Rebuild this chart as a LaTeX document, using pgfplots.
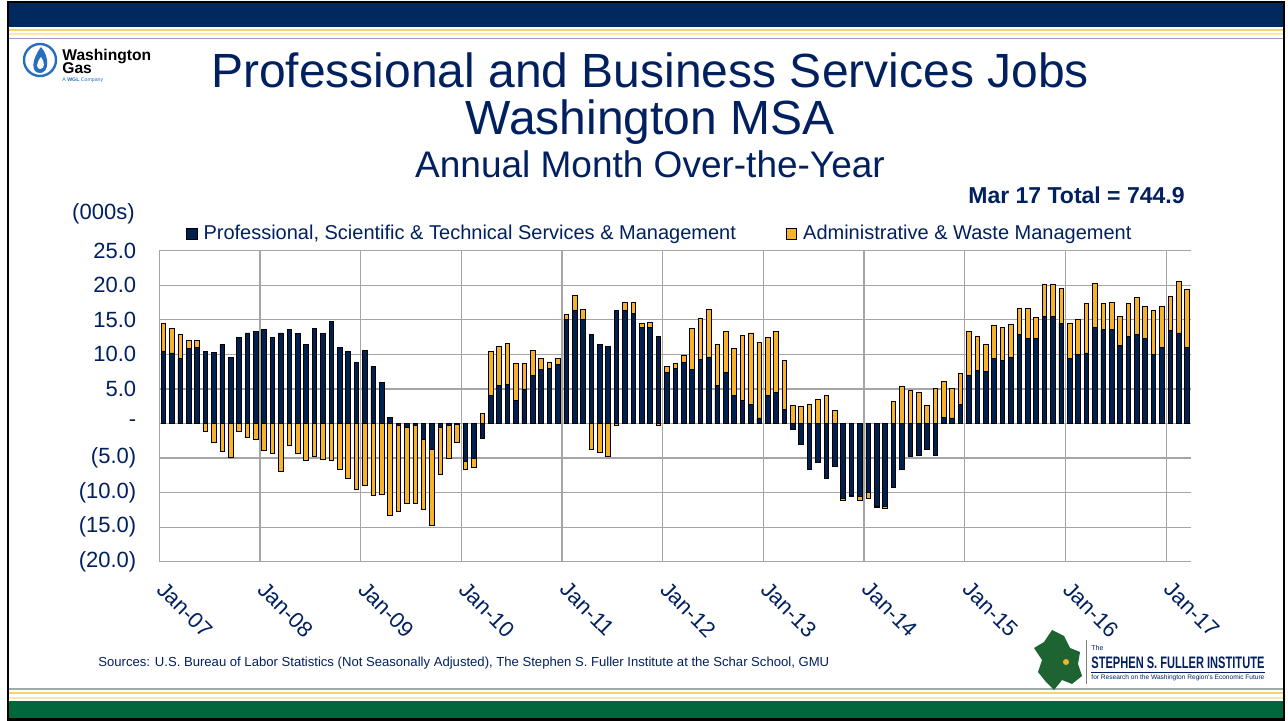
\documentclass[border=0pt]{standalone}
\usepackage{pgfplots}
\pgfplotsset{compat=1.18}
\usepackage{pgfplotstable}
\usepackage{graphicx}
\usepackage{fontspec}
\setmainfont{Liberation Sans}

\definecolor{navy}{RGB}{0,32,96}
\definecolor{barnavy}{RGB}{0,32,80}
\definecolor{gold}{RGB}{246,178,42}
\definecolor{bandnavy}{RGB}{0,41,94}
\definecolor{bandgreen}{RGB}{0,102,60}
\definecolor{stripeyellow}{RGB}{250,210,110}
\definecolor{gridgray}{RGB}{165,165,165}
\definecolor{logoblue}{RGB}{40,110,190}
\definecolor{mapgreen}{RGB}{30,100,50}

% month index, prof/sci/tech + management, admin & waste (change over the year, 000s)
\pgfplotstableread{
m pst adm
0 10.5 4.0
1 10.2 3.6
2 9.4 3.5
3 10.8 1.2
4 11.0 1.0
5 10.4 -1.1
6 10.3 -2.8
7 11.4 -4.0
8 9.5 -4.9
9 12.5 -1.1
10 13.1 -2.0
11 13.3 -2.3
12 13.6 -3.9
13 12.4 -4.4
14 13.1 -6.9
15 13.6 -3.1
16 13.0 -4.3
17 11.4 -5.4
18 13.7 -4.8
19 13.0 -5.2
20 14.8 -5.4
21 11.0 -6.7
22 10.4 -8.0
23 8.8 -9.6
24 10.6 -9.0
25 8.2 -10.4
26 6.0 -10.3
27 0.9 -13.3
28 -0.3 -12.4
29 -0.5 -11.1
30 -0.3 -11.3
31 -2.3 -10.1
32 -3.8 -11.0
33 -0.6 -6.7
34 -0.3 -4.7
35 -0.1 -2.7
36 -5.5 -1.1
37 -5.1 -1.3
38 -2.1 1.4
39 4.0 6.4
40 5.5 5.6
41 5.7 5.9
42 3.3 5.4
43 5.0 3.7
44 6.9 3.7
45 7.8 1.6
46 8.0 0.9
47 8.6 0.8
48 15.0 0.8
49 16.4 2.1
50 15.0 1.5
51 12.9 -3.8
52 11.4 -4.2
53 11.2 -4.8
54 16.4 -0.3
55 16.3 1.2
56 15.9 1.6
57 13.9 0.6
58 13.9 0.7
59 12.6 -0.3
60 7.4 0.8
61 8.0 0.7
62 8.8 1.1
63 7.8 6.0
64 9.3 5.9
65 9.6 6.9
66 5.5 6.0
67 7.4 5.9
68 4.0 6.9
69 3.3 9.4
70 2.8 10.3
71 0.8 10.9
72 4.0 8.4
73 4.5 8.8
74 2.0 7.1
75 -0.8 2.6
76 -3.0 2.5
77 -6.7 2.8
78 -5.7 3.5
79 -8.0 4.0
80 -6.2 1.9
81 -10.9 -0.3
82 -10.4 -0.1
83 -10.6 -0.6
84 -10.0 -0.9
85 -12.0 -0.1
86 -12.0 -0.3
87 -9.2 3.2
88 -6.6 5.4
89 -4.7 4.8
90 -4.6 4.5
91 -3.7 2.6
92 -4.6 5.1
93 0.9 5.2
94 0.8 4.3
95 2.7 4.5
96 6.9 6.4
97 7.7 4.9
98 7.5 4.0
99 9.4 4.8
100 9.1 4.8
101 9.5 4.8
102 12.9 3.8
103 12.3 4.3
104 12.3 3.0
105 15.5 4.6
106 15.5 4.6
107 14.5 5.0
108 9.4 5.1
109 10.0 5.1
110 10.2 7.2
111 13.9 6.3
112 13.6 3.8
113 13.6 3.9
114 11.3 4.2
115 12.6 4.8
116 12.9 5.4
117 12.3 4.6
118 10.0 6.3
119 11.0 5.9
120 13.5 4.9
121 13.1 7.5
122 11.0 8.4
}\jobsdata

\begin{document}
\begin{tikzpicture}
\useasboundingbox (0,0) rectangle (644pt,-360.5pt);
\fill[white] (0,0) rectangle (644pt,-360.5pt);

% slide frame, pixel coordinates
\begin{scope}[x=0.5pt,y=-0.5pt]
\fill[bandnavy] (9,3) rectangle (1284,27);
\fill[stripeyellow] (9,29) rectangle (1284,31);
\fill[stripeyellow!55] (9,33) rectangle (1284,35);
\fill[blue!30!gray!60] (9,38) rectangle (1284,39.5);
\fill[bandgreen!35!gray!60] (9,688) rectangle (1284,690);
\fill[stripeyellow] (9,692) rectangle (1284,694);
\fill[stripeyellow!55] (9,697) rectangle (1284,699);
\fill[bandgreen] (9,701) rectangle (1284,719);
\draw[black, line width=1.2pt] (8,2) rectangle (1284,719.5);

% Washington Gas logo
\draw[logoblue, line width=1.2pt] (40,60) circle[radius=8pt];
\fill[logoblue] (41,47) .. controls (50,57) and (49,73) .. (40,73) .. controls (31,73) and (31,60) .. (41,47);
\fill[white] (41,57) .. controls (45,62) and (45,69) .. (40,69) .. controls (36,69) and (36,63) .. (41,57);
\node[anchor=base west, inner sep=0pt, font=\bfseries\fontsize{7.8}{9}\selectfont] at (62,61) {Washington};
\node[anchor=base west, inner sep=0pt, font=\bfseries\fontsize{7.8}{9}\selectfont] at (62,74) {Gas};
\node[anchor=base west, inner sep=0pt, font=\fontsize{2.6}{3}\selectfont, text=logoblue] at (62,82) {A \textbf{WGL} Company};

% titles
\node[anchor=base, inner sep=0pt, text=navy, font=\fontsize{24}{28}\selectfont] at (650,88) {Professional and Business Services Jobs};
\node[anchor=base, inner sep=0pt, text=navy, font=\fontsize{24}{28}\selectfont] at (650,135) {Washington MSA};
\node[anchor=base, inner sep=0pt, text=navy, font=\fontsize{18.5}{22}\selectfont] at (650,178) {Annual Month Over-the-Year};
\node[anchor=base east, inner sep=0pt, text=navy, font=\bfseries\fontsize{11.5}{13}\selectfont] at (1185,204) {Mar 17 Total = 744.9};
\node[anchor=base east, inner sep=0pt, text=navy, font=\fontsize{11}{13}\selectfont] at (135,220) {(000s)};

% source
\node[anchor=base west, inner sep=0pt, text=navy, font=\fontsize{6.55}{8}\selectfont] at (98,666) {Sources: U.S. Bureau of Labor Statistics (Not Seasonally Adjusted), The Stephen S. Fuller Institute at the Schar School, GMU};

% Fuller Institute logo
\fill[mapgreen] (1052,630) -- (1064,636) -- (1070,648) -- (1080,652) -- (1078,664) -- (1082,676) -- (1072,684) -- (1062,680) -- (1054,690) -- (1046,682) -- (1038,672) -- (1042,660) -- (1034,648) -- (1044,642) -- cycle;
\fill[gold] (1066,662) circle[radius=1.5pt];
\draw[gray, line width=0.4pt] (1086,640) -- (1086,684);
\node[anchor=base west, inner sep=0pt, text=navy, font=\fontsize{3.5}{4}\selectfont] at (1091,650) {The};
\node[anchor=base west, inner sep=0pt, text=navy] at (1091,668) {\resizebox{86.5pt}{5.8pt}{\bfseries STEPHEN S. FULLER INSTITUTE}};
\draw[navy, line width=0.3pt] (1091,672) -- (1265,672);
\node[anchor=base west, inner sep=0pt, text=navy] at (1091,679) {\resizebox{86.5pt}{!}{\fontsize{4}{5}\selectfont for Research on the Washington Region's Economic Future}};
\end{scope}

\begin{axis}[
  at={(79.65pt,-280.85pt)}, anchor=south west,
  scale only axis, width=516pt, height=155.5pt,
  xmin=-0.5, xmax=122.5, ymin=-20, ymax=25,
  ytick={-20,-15,...,25},
  yticklabels={(20.0),(15.0),(10.0),(5.0),-,5.0,10.0,15.0,20.0,25.0},
  xtick={0,12,...,120},
  xticklabels={Jan-07,Jan-08,Jan-09,Jan-10,Jan-11,Jan-12,Jan-13,Jan-14,Jan-15,Jan-16,Jan-17},
  minor xtick={-0.5,11.5,...,119.5},
  xminorgrids=true, ymajorgrids=true,
  grid style={gridgray, line width=0.6pt},
  minor grid style={gridgray, line width=0.6pt},
  major tick length=0pt, minor tick length=0pt,
  axis line style={draw=none},
  /pgf/number format/assume math mode=true,
  tick label style={text=navy, font=\fontsize{11}{13}\selectfont},
  yticklabel shift=8pt,
  xticklabel shift=9pt,
  xticklabel style={xshift=1.5pt, rotate=-45, anchor=north west, inner sep=0pt},
  legend style={at={(0.487,1.054)}, anchor=center, draw=none, fill=none,
    legend columns=2, font=\fontsize{10}{12}\selectfont, text=navy,
    nodes={inner xsep=3pt},
    /tikz/every even column/.append style={column sep=22pt}},
]
\addlegendimage{legend image code/.code={\draw[draw=black, fill=barnavy, line width=0.4pt] (0pt,-2.6pt) rectangle (5.2pt,2.6pt);}}
\addlegendentry{Professional, Scientific \& Technical Services \& Management}
\addlegendimage{legend image code/.code={\draw[draw=black, fill=gold, line width=0.4pt] (0pt,-2.6pt) rectangle (5.2pt,2.6pt);}}
\addlegendentry{Administrative \& Waste Management}

% admin bars drawn from zero to the stack top, prof bars over them
\addplot[ybar, bar width=2.3pt, bar shift=0pt, fill=gold, draw=black, line width=0.4pt, forget plot]
  table[x=m, y expr={(\thisrow{pst}*\thisrow{adm}>0) ? (\thisrow{pst}+\thisrow{adm}) : \thisrow{adm}}] {\jobsdata};
\addplot[ybar, bar width=2.3pt, bar shift=0pt, fill=barnavy, draw=black, line width=0.4pt, forget plot]
  table[x=m, y=pst] {\jobsdata};
\end{axis}
\end{tikzpicture}
\end{document}
